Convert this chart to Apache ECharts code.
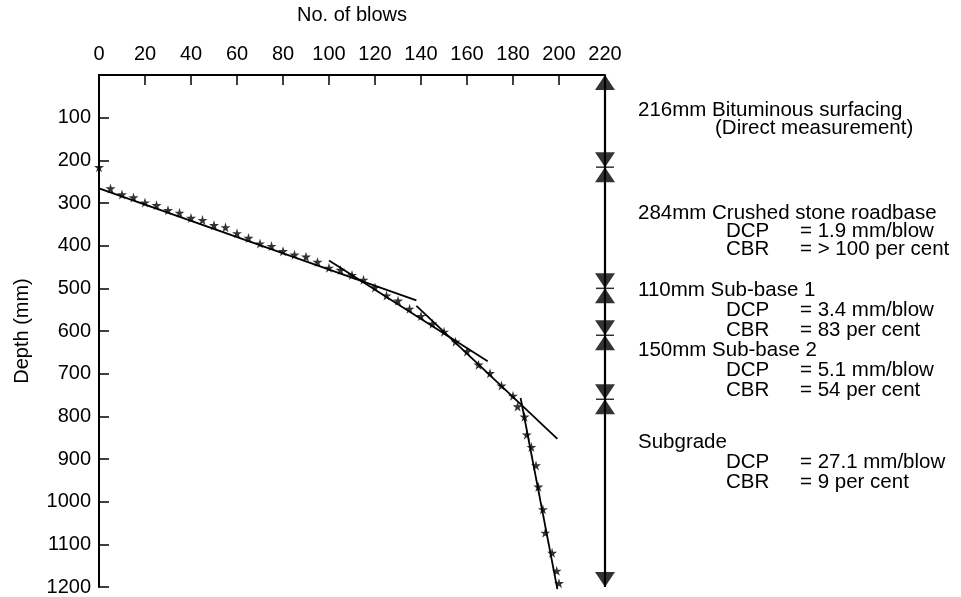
<!DOCTYPE html>
<html>
<head>
<meta charset="utf-8">
<script src="https://cdn.jsdelivr.net/npm/echarts@6/dist/echarts.min.js"></script>
<style>
html,body{margin:0;padding:0;background:#fff;}
#chart{width:961px;height:597px;}
</style>
</head>
<body>
<div id="chart"></div>
<script>
// ---- data ----
const blows = [0,5,10,15,20,25,30,35,40,45,50,55,60,65,70,75,80,85,90,95,100,105,110,115,120,125,130,135,140,145,150,155,160,165,170,175,180,182,185,186,188,190,191,193,194,197,199,200];
const depths = [216,266,280,287,299,305,317,323,335,340,352,357,371,382,395,401,413,421,426,438,452,457,469,480,498,517,529,548,565,583,602,625,648,679,699,728,752,777,801,843,872,915,965,1018,1073,1120,1162,1191];

// fitted lines: [blows, depth] end points
const fitRoadbase = [[-3,260],[138,528]];
const fitSubbase1 = [[100,435],[169,671]];
const fitSubbase2 = [[138,541],[199.3,853]];
const fitSubgrade = [[183.3,757],[199.3,1205]];

// layer boundaries (mm) on the dimension line at 220 blows
const arrowX = 220;
const layerBounds = [0,216,500,610,760,1200];
const upTips = [0,216,500,610,760];
const downTips = [216,500,610,760,1200];
const separators = [216,500,610,760];

const xTicks = {min:0,max:220,interval:20};
const yTicks = {min:0,max:1200,interval:100};

const noteLines = [
  '216mm Bituminous surfacing','(Direct measurement)',
  '284mm Crushed stone roadbase','DCP','= 1.9 mm/blow','CBR','= > 100 per cent',
  '110mm Sub-base 1','DCP','= 3.4 mm/blow','CBR','= 83 per cent',
  '150mm Sub-base 2','DCP','= 5.1 mm/blow','CBR','= 54 per cent',
  'Subgrade','DCP','= 27.1 mm/blow','CBR','= 9 per cent'
];
// ---- layout ----
const notePos = [
  [638,110],[715,128],
  [638,213],[726,231],[800,231],[726,249],[800,249],
  [638,290],[726,310],[800,310],[726,330],[800,330],
  [638,350],[726,370],[800,370],[726,390],[800,390],
  [638,442],[726,462],[800,462],[726,482],[800,482]
];

const FONT = '"Liberation Sans", Arial, Helvetica, sans-serif';
const FS = 20;
const NFS = 20.5;
const starPath = 'path://M50,0 L61,35 L98,35 L68,57 L79,91 L50,70 L21,91 L32,57 L2,35 L39,35 Z';

const chart = echarts.init(document.getElementById('chart'), null, {renderer:'canvas'});

function fitSeries(pts){
  return {type:'line', data:pts, symbol:'none', clip:false, silent:true,
    lineStyle:{color:'#000', width:1.8}, z:3};
}

const option = {
  backgroundColor:'#fff',
  animation:false,
  grid:{left:99, right:356, top:71, bottom:8, containLabel:false},
  xAxis:{
    type:'value', position:'top', min:xTicks.min, max:xTicks.max, interval:xTicks.interval,
    name:'No. of blows', nameLocation:'middle', nameGap:50,
    nameTextStyle:{color:'#000', fontSize:FS, fontFamily:FONT},
    axisLine:{show:true, onZero:false, lineStyle:{color:'#000', width:2}},
    axisTick:{show:true, inside:true, length:10, lineStyle:{color:'#000', width:1.5}},
    axisLabel:{color:'#000', fontSize:FS, fontFamily:FONT, margin:11},
    splitLine:{show:false}
  },
  yAxis:{
    type:'value', inverse:true, min:yTicks.min, max:yTicks.max, interval:yTicks.interval,
    name:'Depth (mm)', nameLocation:'middle', nameGap:67, nameRotate:90,
    nameTextStyle:{color:'#000', fontSize:FS, fontFamily:FONT},
    axisLine:{show:true, onZero:false, lineStyle:{color:'#000', width:2}},
    axisTick:{show:true, inside:true, length:10, lineStyle:{color:'#000', width:1.5}},
    axisLabel:{color:'#000', fontSize:FS, fontFamily:FONT, margin:8,
      formatter:function(v){return v===0?'':String(v);}},
    splitLine:{show:false}
  },
  series:[
    {type:'scatter', data:blows.map((b,i)=>[b,depths[i]]), symbol:starPath, symbolSize:10,
     itemStyle:{color:'#000'}, clip:false, z:4},
    fitSeries(fitRoadbase),
    fitSeries(fitSubbase1),
    fitSeries(fitSubbase2),
    fitSeries(fitSubgrade),
    {type:'line', data:[[arrowX,layerBounds[0]],[arrowX,layerBounds[layerBounds.length-1]]],
     symbol:'none', clip:false, lineStyle:{color:'#000', width:2.2}, z:3},
    {type:'scatter', data:upTips.map(d=>[arrowX,d]), symbol:'triangle', symbolSize:[20,15],
     symbolOffset:[0,7.5], itemStyle:{color:'#000'}, clip:false, z:5},
    {type:'scatter', data:downTips.map(d=>[arrowX,d]), symbol:'triangle', symbolSize:[20,15],
     symbolRotate:180, symbolOffset:[0,-7.5], itemStyle:{color:'#000'}, clip:false, z:5},
    {type:'scatter', data:separators.map(d=>[arrowX,d]), symbol:'rect', symbolSize:[18,1.5],
     itemStyle:{color:'#000'}, clip:false, z:5}
  ],
  graphic: noteLines.map((t,i)=>({
    type:'text', x:notePos[i][0], y:notePos[i][1], silent:true,
    style:{text:t, fill:'#000', fontSize:NFS, fontFamily:FONT, verticalAlign:'middle', align:'left'}
  }))
};
chart.setOption(option);
</script>
</body>
</html>
